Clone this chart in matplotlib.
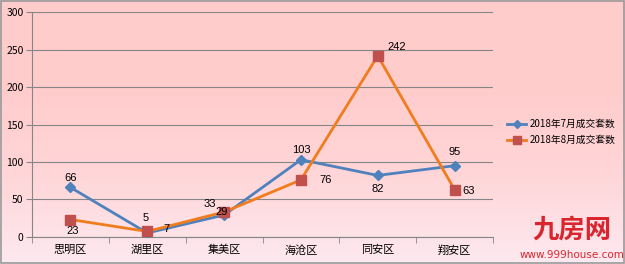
import numpy as np
import matplotlib
matplotlib.use("Agg")
import matplotlib.pyplot as plt
from matplotlib.colors import LinearSegmentedColormap

plt.rcParams['font.family'] = ['Noto Sans CJK SC', 'DejaVu Sans']

districts = ['思明区', '湖里区', '集美区', '海沧区', '同安区', '翔安区']
july = [66, 5, 29, 103, 82, 95]
august = [23, 7, 33, 76, 242, 63]
july_label = '2018年7月成交套数'
aug_label = '2018年8月成交套数'

fig = plt.figure(figsize=(6.25, 2.64), dpi=100)

# gradient background over the whole figure
bg = fig.add_axes([0, 0, 1, 1], zorder=-10)
cmap = LinearSegmentedColormap.from_list('bg', ['#fde9f0', '#ffd6d8', '#ffcccc', '#ffcccc'])
grad = np.linspace(0, 1, 256).reshape(-1, 1)
bg.imshow(grad, aspect='auto', cmap=cmap, extent=[0, 1, 0, 1], origin='lower')
bg.set_xlim(0, 1)
bg.set_ylim(0, 1)
bg.axis('off')
bg.add_patch(plt.Rectangle((0.001, 0.002), 0.997, 0.995, fill=False, ec='#9a9a9a', lw=1.2,
                           transform=bg.transAxes))

ax = fig.add_axes([0.0512, 0.1034, 0.7376, 0.8493])
ax.patch.set_alpha(0)
x = np.arange(len(districts))

ax.plot(x, july, color='#4f81bd', lw=2, marker='D', ms=5, mfc='#4f81bd', mec='#4f81bd',
        label=july_label, zorder=3)
ax.plot(x, august, color='#f07c1e', lw=2, marker='s', ms=7, mfc='#c0504d', mec='#c0504d',
        label=aug_label, zorder=3)

ax.set_xlim(-0.5, len(districts) - 0.5)
ax.set_ylim(0, 300)
ax.set_yticks(range(0, 301, 50))
ax.set_xticks(x)
ax.set_xticklabels(districts, fontsize=8)
ax.set_xticks(np.arange(-0.5, len(districts)), minor=True)
ax.tick_params(axis='x', which='major', length=0, pad=6)
ax.tick_params(axis='x', which='minor', length=4, color='#868686')
ax.tick_params(axis='y', length=4, color='#868686', labelsize=7.5, pad=2)
ax.grid(axis='y', color='#868686', lw=0.8)
ax.set_axisbelow(True)
for s in ['top', 'right']:
    ax.spines[s].set_visible(False)
for s in ['left', 'bottom']:
    ax.spines[s].set_color('#868686')

# data labels
july_offsets = [(0, 6.5), (-1.5, 11), (-2, 2), (0, 7), (0, -10), (0, 10)]
aug_offsets = [(1.5, -8), (14, 2), (-10, 6), (18, 0), (14, 6.5), (10, -1)]
for i in range(len(districts)):
    dx, dy = july_offsets[i]
    ax.annotate(str(july[i]), (x[i], july[i]), xytext=(dx, dy), textcoords='offset points',
                ha='center', va='center', fontsize=8, family='Liberation Sans', zorder=4)
    dx, dy = aug_offsets[i]
    ax.annotate(str(august[i]), (x[i], august[i]), xytext=(dx, dy), textcoords='offset points',
                ha='center', va='center', fontsize=8, family='Liberation Sans', zorder=4)

fig.legend(loc='center left', bbox_to_anchor=(0.797, 0.50), frameon=False, fontsize=7,
           handlelength=2.0, labelspacing=0.6, handletextpad=0.3, markerscale=0.8)

# watermark
fig.text(0.915, 0.13, '九房网', color='#d9262e', fontsize=19, fontweight='bold',
         ha='center', va='center')
fig.text(0.915, 0.035, 'www.999house.com', color='#d9262e', fontsize=7.5,
         ha='center', va='center', family='DejaVu Sans')

fig.savefig('out.png', dpi=100)
